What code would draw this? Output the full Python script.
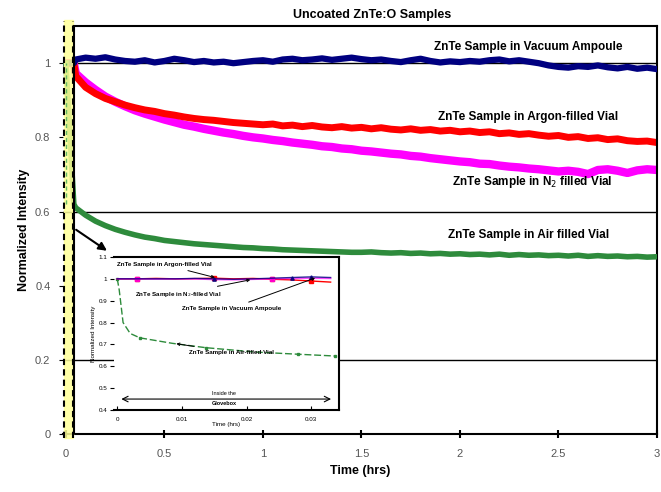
#import necessary libraries
import numpy as np, matplotlib.pyplot as plt

plt.rcParams['font.family'] = ['Liberation Sans', 'DejaVu Sans']

#sample times (hrs) for the long runs
t = np.round(np.arange(0.05, 3.001, 0.05), 2)
t_start = [0.0, 0.04]

vacuum = [1.010, 1.015, 1.012, 1.016, 1.010, 1.006, 1.004, 1.008, 1.002, 1.006,
          1.012, 1.008, 1.003, 1.006, 1.002, 1.004, 1.000, 1.003, 1.006, 1.008,
          1.004, 1.010, 1.012, 1.008, 1.010, 1.013, 1.009, 1.012, 1.015, 1.011,
          1.008, 1.010, 1.006, 1.003, 1.008, 1.012, 1.006, 1.002, 1.005, 1.003,
          1.006, 1.004, 1.008, 1.010, 1.005, 1.008, 1.004, 1.000, 0.994, 0.990,
          0.988, 0.992, 0.990, 0.994, 0.989, 0.986, 0.990, 0.985, 0.988, 0.984]
argon = [0.965, 0.935, 0.918, 0.905, 0.896, 0.887, 0.880, 0.874, 0.870, 0.864,
         0.860, 0.855, 0.851, 0.848, 0.846, 0.843, 0.840, 0.838, 0.836, 0.834,
         0.836, 0.831, 0.833, 0.829, 0.832, 0.828, 0.826, 0.829, 0.825, 0.827,
         0.823, 0.826, 0.822, 0.820, 0.823, 0.819, 0.821, 0.817, 0.819, 0.815,
         0.817, 0.813, 0.815, 0.810, 0.812, 0.808, 0.810, 0.806, 0.803, 0.805,
         0.800, 0.802, 0.797, 0.799, 0.794, 0.796, 0.791, 0.789, 0.790, 0.786]
nitrogen = [0.972, 0.948, 0.928, 0.910, 0.896, 0.884, 0.873, 0.864, 0.856, 0.848,
            0.841, 0.834, 0.829, 0.823, 0.818, 0.813, 0.809, 0.804, 0.800, 0.797,
            0.793, 0.790, 0.786, 0.783, 0.780, 0.776, 0.774, 0.770, 0.768, 0.764,
            0.762, 0.759, 0.756, 0.754, 0.750, 0.748, 0.744, 0.741, 0.738, 0.735,
            0.733, 0.729, 0.728, 0.724, 0.721, 0.719, 0.716, 0.714, 0.711, 0.708,
            0.710, 0.707, 0.701, 0.712, 0.714, 0.710, 0.704, 0.711, 0.714, 0.712]
air = [0.610, 0.590, 0.574, 0.562, 0.552, 0.544, 0.537, 0.531, 0.527, 0.522,
       0.519, 0.516, 0.513, 0.511, 0.509, 0.507, 0.505, 0.503, 0.502, 0.500,
       0.499, 0.497, 0.496, 0.495, 0.494, 0.493, 0.492, 0.491, 0.490, 0.490,
       0.491, 0.489, 0.488, 0.489, 0.487, 0.488, 0.486, 0.487, 0.485, 0.486,
       0.484, 0.485, 0.483, 0.485, 0.482, 0.484, 0.482, 0.483, 0.481, 0.482,
       0.480, 0.482, 0.479, 0.481, 0.479, 0.480, 0.478, 0.479, 0.477, 0.478]
start_vals = {"vacuum": [1.0, 1.0], "argon": [1.0, 1.0], "nitrogen": [1.0, 1.0], "air": [1.0, 0.62]}

#first two minutes (inset)
t_in = [0, 0.003, 0.006, 0.009, 0.012, 0.015, 0.018, 0.021, 0.024, 0.027, 0.030, 0.033]
argon_in = [1.0, 1.0, 1.002, 1.0, 1.001, 1.003, 1.0, 1.002, 0.998, 0.995, 0.990, 0.985]
nitrogen_in = [1.0, 1.0, 0.999, 1.0, 1.0, 0.997, 0.996, 0.998, 1.0, 1.002, 1.003, 1.002]
vacuum_in = [1.0, 1.0, 1.0, 1.0, 1.002, 1.0, 0.998, 1.0, 1.003, 1.006, 1.009, 1.006]
t_air_in = [0, 0.0003, 0.0005, 0.0009, 0.002, 0.0035, 0.0085, 0.0137, 0.0214, 0.028, 0.0336]
air_in = [1.0, 0.95, 0.90, 0.80, 0.75, 0.73, 0.705, 0.685, 0.665, 0.655, 0.647]

fig = plt.figure(figsize=(6.61, 4.92), dpi=100)
ax = fig.add_axes([0.0953, 0.1179, 0.8986, 0.829])

#gridlines at 0.2, 0.6 and 1
for g in [0.2, 0.6, 1.0]:
    ax.axhline(g, color='black', lw=1, zorder=1)

series = [("vacuum", vacuum, '#000080', 4.5, 3), ("argon", argon, '#ff0000', 5, 2.5),
          ("nitrogen", nitrogen, '#ff00ff', 6, 2), ("air", air, '#2e8b3c', 4, 3)]
for name, vals, col, lw, z in series:
    xs = list(t_start) + list(t)
    ys = start_vals[name] + vals
    ax.plot(xs, ys, color=col, lw=lw, zorder=z)

#the yellow band marks the inset range
ax.axvspan(-0.01, 0.035, ymin=-0.01, ymax=1.015, color='#ffff99', alpha=0.85, zorder=4, clip_on=False)
for xv in [-0.01, 0.035]:
    ax.plot([xv, xv], [-0.01, 1.115], color='black', lw=1.5, ls=(0, (3, 2)), zorder=5, clip_on=False)
ax.plot([0.0, 0.0], [0.62, 1.0], color='#66bb66', lw=1, ls=(0, (3, 2)), zorder=5)
ax.plot([0.04, 0.04], [0, 1.1], color='black', lw=1.5, zorder=5)
ax.plot([0.04, 3.0], [1.1, 1.1], color='black', lw=1.5, zorder=5, clip_on=False)

ax.set_xlim(-0.015, 3.0)
ax.set_ylim(0, 1.1)
ax.spines['left'].set_visible(False)
ax.spines['top'].set_visible(False)
for s in ['bottom', 'right']:
    ax.spines[s].set_linewidth(1.5)
ax.set_xticks([0, 0.5, 1, 1.5, 2, 2.5, 3])
ax.set_xticklabels(["0", "0.5", "1", "1.5", "2", "2.5", "3"])
ax.set_yticks([0, 0.2, 0.4, 0.6, 0.8, 1])
ax.set_yticklabels(["0", "0.2", "0.4", "0.6", "0.8", "1"])
ax.tick_params(axis='x', direction='inout', length=6, width=1.5, labelsize=8, pad=8, labelcolor='#555555')
ax.tick_params(axis='y', direction='out', length=3, labelsize=8, pad=6, labelcolor='#555555')
ax.set_xlabel("Time (hrs)", fontweight='bold', fontsize=9, labelpad=4)
ax.set_ylabel("Normalized Intensity", fontweight='bold', fontsize=9, labelpad=4)
ax.set_title("Uncoated ZnTe:O Samples", fontweight='bold', fontsize=9, pad=6, x=0.52)

#labels of each curve
lab = dict(fontweight='bold', fontsize=8.5, ha='center', va='center')
ax.text(2.345, 1.043, "ZnTe Sample in Vacuum Ampoule", **lab)
ax.text(2.345, 0.854, "ZnTe Sample in Argon-filled Vial", **lab)
ax.text(2.365, 0.679, "ZnTe Sample in N$_2$ filled Vial", **lab)
ax.text(2.35, 0.536, "ZnTe Sample in Air filled Vial", **lab)

ax.annotate("", xy=(0.22, 0.49), xytext=(0.04, 0.555),
            arrowprops=dict(arrowstyle='-|>', color='black', lw=1.5, mutation_scale=12), zorder=6)

#inset with the first two minutes
ins = fig.add_axes([0.1725, 0.1667, 0.3404, 0.311])
ins.plot(t_air_in, air_in, color='#2e8b3c', lw=1, ls=(0, (5, 2)), marker='s', ms=2, markevery=[0, 5, 7, 9, 10])
ins.plot(t_in, argon_in, color='#ff0000', lw=1, marker='s', ms=2.5, markevery=[1, 5, 8, 10])
ins.plot(t_in, nitrogen_in, color='#ff00ff', lw=1.2, alpha=0.7, marker='s', ms=2.5, markevery=[1, 8])
ins.plot(t_in, vacuum_in, color='#000080', lw=1, alpha=0.8, marker='^', ms=2.5, markevery=[5, 9, 10])
ins.set_xlim(-0.0005, 0.0343)
ins.set_ylim(0.4, 1.1)
ins.spines['left'].set_visible(False)
for s in ['bottom', 'right', 'top']:
    ins.spines[s].set_linewidth(1.5)
ins.set_xticks([0, 0.01, 0.02, 0.03])
ins.set_xticklabels(["0", "0.01", "0.02", "0.03"])
ins.set_yticks([0.4, 0.5, 0.6, 0.7, 0.8, 0.9, 1.0, 1.1])
ins.set_yticklabels(["0.4", "0.5", "0.6", "0.7", "0.8", "0.9", "1", "1.1"])
ins.tick_params(axis='both', labelsize=4.5, length=3, pad=2)
ins.tick_params(axis='x', direction='in', pad=5)
ins.set_xlabel("Time (hrs)", fontsize=4.5, labelpad=0)
ins.set_ylabel("Normalized Intensity", fontsize=4.5, labelpad=2)

small = dict(fontweight='bold', fontsize=4.5, va='center')
arr = dict(arrowstyle='->', color='black', lw=0.7)
ins.annotate("ZnTe Sample in Argon-filled Vial", xy=(0.0155, 1.003), xytext=(0.0, 1.065),
             arrowprops=arr, **small)
ins.annotate("ZnTe Sample in N$_2$-filled Vial", xy=(0.021, 0.998), xytext=(0.0027, 0.93),
             arrowprops=arr, **small)
ins.annotate("ZnTe Sample in Vacuum Ampoule", xy=(0.031, 1.008), xytext=(0.01, 0.865),
             arrowprops=arr, **small)
ins.annotate("ZnTe Sample in Air-filled Vial", xy=(0.0087, 0.705), xytext=(0.0111, 0.665),
             arrowprops=arr, **small)
ins.annotate("", xy=(0.0002, 0.45), xytext=(0.0335, 0.45),
             arrowprops=dict(arrowstyle='<->', color='black', lw=0.8))
ins.text(0.0165, 0.474, "Inside the", fontsize=4, ha='center', va='center')
ins.text(0.0165, 0.428, "Glovebox", fontsize=4, fontweight='bold', ha='center', va='center')

plt.savefig("out.png", dpi=100)
